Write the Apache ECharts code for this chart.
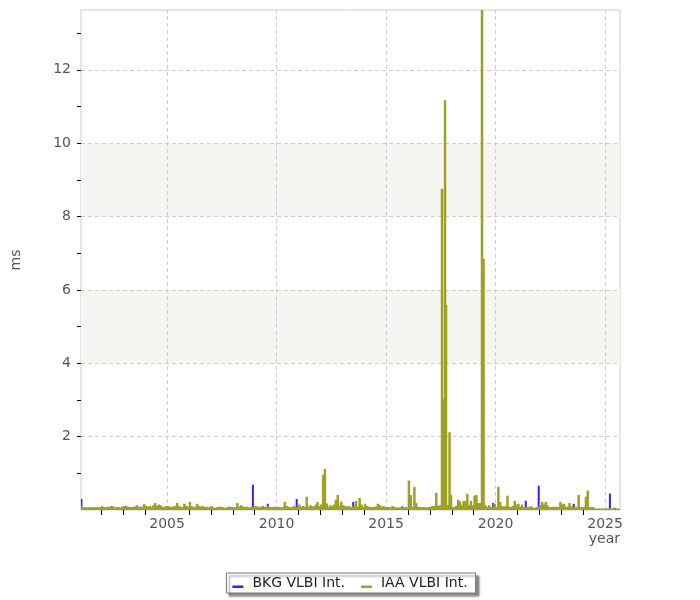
<!DOCTYPE html>
<html><head><meta charset="utf-8">
<script src="https://cdn.jsdelivr.net/npm/echarts@6/dist/echarts.min.js"></script>
<style>html,body{margin:0;padding:0;background:#fff}#c{width:700px;height:600px}</style>
</head><body><div id="c"></div>
<script>
// ---- data ----
const seriesNames = ['BKG VLBI Int.', 'IAA VLBI Int.'];
const iaaFirstYear = 2001;
// IAA VLBI Int. monthly values (ms), one row per year, Jan..Dec
const iaaByYear = [
  [0.13, 0.09, 0.07, 0.08, 0.07, 0.08, 0.08, 0.07, 0.08, 0.08, 0.07, 0.08], // 2001
  [0.11, 0.08, 0.07, 0.09, 0.08, 0.10, 0.10, 0.07, 0.08, 0.08, 0.07, 0.09], // 2002
  [0.11, 0.08, 0.09, 0.08, 0.08, 0.09, 0.08, 0.13, 0.08, 0.10, 0.08, 0.16], // 2003
  [0.11, 0.09, 0.11, 0.08, 0.13, 0.19, 0.11, 0.15, 0.13, 0.09, 0.08, 0.11], // 2004
  [0.11, 0.09, 0.08, 0.10, 0.11, 0.19, 0.11, 0.09, 0.08, 0.17, 0.11, 0.09], // 2005
  [0.22, 0.11, 0.08, 0.09, 0.17, 0.11, 0.09, 0.11, 0.08, 0.09, 0.07, 0.08], // 2006
  [0.11, 0.07, 0.06, 0.08, 0.09, 0.09, 0.08, 0.06, 0.07, 0.08, 0.07, 0.08], // 2007
  [0.08, 0.07, 0.19, 0.09, 0.13, 0.10, 0.08, 0.09, 0.08, 0.07, 0.09, 0.08], // 2008
  [0.11, 0.09, 0.08, 0.09, 0.11, 0.09, 0.08, 0.11, 0.08, 0.08, 0.09, 0.08], // 2009
  [0.09, 0.08, 0.07, 0.08, 0.22, 0.11, 0.09, 0.08, 0.08, 0.11, 0.09, 0.08], // 2010
  [0.15, 0.09, 0.11, 0.08, 0.36, 0.09, 0.13, 0.11, 0.09, 0.15, 0.22, 0.11], // 2011
  [0.15, 0.96, 1.12, 0.18, 0.09, 0.13, 0.11, 0.15, 0.28, 0.41, 0.11, 0.23], // 2012
  [0.13, 0.11, 0.09, 0.11, 0.08, 0.09, 0.11, 0.25, 0.09, 0.33, 0.15, 0.09], // 2013
  [0.17, 0.11, 0.09, 0.08, 0.08, 0.09, 0.09, 0.17, 0.13, 0.09, 0.11, 0.08], // 2014
  [0.08, 0.08, 0.07, 0.11, 0.08, 0.07, 0.07, 0.07, 0.08, 0.07, 0.08, 0.07], // 2015
  [0.80, 0.41, 0.09, 0.63, 0.19, 0.09, 0.08, 0.08, 0.08, 0.07, 0.07, 0.08], // 2016
  [0.09, 0.11, 0.11, 0.47, 0.11, 0.13, 0.13, 0.13, 0.13, 0.13, 0.13, 0.09], // 2017
  [0.08, 0.08, 0.11, 0.28, 0.23, 0.13, 0.25, 0.25, 0.44, 0.13, 0.25, 0.13], // 2018
  [0.39, 0.41, 0.19, 0.19, 0.13, 0.13, 0.13, 0.08, 0.13, 0.08, 0.08, 0.17], // 2019
  [0.08, 0.63, 0.22, 0.11, 0.09, 0.11, 0.39, 0.09, 0.08, 0.11, 0.25, 0.15], // 2020
  [0.17, 0.09, 0.15, 0.08, 0.08, 0.08, 0.09, 0.09, 0.06, 0.06, 0.08, 0.08], // 2021
  [0.13, 0.22, 0.15, 0.22, 0.13, 0.08, 0.08, 0.09, 0.08, 0.09, 0.08, 0.22], // 2022
  [0.15, 0.17, 0.09, 0.09, 0.19, 0.11, 0.08, 0.08, 0.08, 0.41, 0.08, 0.08], // 2023
  [0.08, 0.36, 0.53, 0.08, 0.08, 0.08, 0.04, 0.04, 0.04, 0.04, 0.04, 0.04], // 2024
  [0.04, 0.04, 0.04, 0.04, 0.04, 0.04, 0.04, 0.04]                          // 2025
];
// IAA individual large sessions [year, ms]
const iaaSpikes = [
  [2017.554, 8.76], [2017.623, 3.02], [2017.691, 11.17], [2017.737, 5.59],
  [2017.897, 2.12], [2017.965, 0.41], [2019.380, 13.63], [2019.450, 6.85]
];
// BKG VLBI Int. sessions [year, ms]
const bkgPoints = [
  [2001.10, 0.30], [2002.48, 0.11], [2003.12, 0.11], [2003.58, 0.09],
  [2007.87, 0.09], [2008.93, 0.69], [2009.61, 0.17], [2010.93, 0.30],
  [2013.51, 0.22], [2015.75, 0.10], [2019.90, 0.19], [2021.39, 0.25],
  [2021.65, 0.09], [2021.98, 0.66], [2023.58, 0.17], [2025.23, 0.45],
  [2025.45, 0.06]
];
const xLabelYears = [2005, 2010, 2015, 2020, 2025];
const xTickYears = [2002, 2003, 2004, 2006, 2007, 2008, 2009, 2011, 2012, 2013, 2014,
  2016, 2017, 2018, 2019, 2021, 2022, 2023, 2024];
const yLabelValues = [2, 4, 6, 8, 10, 12];
const yTickValues = [1, 2, 3, 4, 5, 6, 7, 8, 9, 10, 11, 12, 13];
const shadedBands = [[4, 6], [8, 10]];
const xRange = [2001.07, 2025.68];
const yRange = [0, 13.63];

// ---- build ----
const iaaData = [];
iaaByYear.forEach((row, yi) => row.forEach((v, m) => iaaData.push([iaaFirstYear + yi + (m + 0.5) / 12, v])));
iaaSpikes.forEach(p => iaaData.push(p));

const BLUE = '#3c1ef0', OLIVE = '#9fa124';
const font = 'DejaVu Sans';
const gridLines = yLabelValues.map(v => ({yAxis: v})).concat(xLabelYears.map(v => ({xAxis: v})));

const chart = echarts.init(document.getElementById('c'), null, {renderer: 'canvas'});
chart.setOption({
  animation: false,
  textStyle: {fontFamily: font},
  grid: {left: 81, right: 80, top: 10, bottom: 90, show: true, borderColor: '#ccc', borderWidth: 1, backgroundColor: '#fff'},
  legend: {
    data: seriesNames, bottom: 7, left: 'center',
    icon: 'path://M0,0L0.01,0L0.01,0.01Z M15,0L15.01,0L15.01,0.01Z M0,7.5L11,7.5L11,10L0,10Z',
    itemWidth: 15, itemHeight: 10, itemGap: 16,
    padding: [3, 8, 3, 6],
    borderColor: '#777', borderWidth: 1, backgroundColor: '#fff',
    shadowColor: 'rgba(0,0,0,0.45)', shadowBlur: 2, shadowOffsetX: 3, shadowOffsetY: 3,
    textStyle: {fontFamily: font, fontSize: 14, color: '#222'}
  },
  xAxis: {
    type: 'value', min: xRange[0], max: xRange[1],
    name: 'year', nameLocation: 'end', nameGap: 0,
    nameTextStyle: {fontFamily: font, fontSize: 14, color: '#555', align: 'right', verticalAlign: 'top', padding: [22, 0, 0, 0]},
    axisLine: {show: false},
    axisTick: {show: true, customValues: xTickYears, length: 5, lineStyle: {color: '#000'}},
    axisLabel: {customValues: xLabelYears, fontFamily: font, fontSize: 14, color: '#555', margin: 7,
      formatter: v => String(Math.round(v))},
    splitLine: {show: false}
  },
  yAxis: {
    type: 'value', min: yRange[0], max: yRange[1],
    name: 'ms', nameLocation: 'middle', nameGap: 58,
    nameTextStyle: {fontFamily: font, fontSize: 14, color: '#555'},
    axisLine: {show: false},
    axisTick: {show: true, customValues: yTickValues, length: 4, lineStyle: {color: '#000'}},
    axisLabel: {customValues: yLabelValues, fontFamily: font, fontSize: 14, color: '#555', margin: 10,
      formatter: v => String(Math.round(v))},
    splitLine: {show: false}
  },
  series: [
    {
      name: seriesNames[0], type: 'bar', data: bkgPoints, barWidth: 2, barGap: '-100%',
      itemStyle: {color: BLUE}, z: 2, clip: true,
      markArea: {silent: true, z: 0, itemStyle: {color: '#f5f5f1'},
        data: shadedBands.map(b => [{yAxis: b[0]}, {yAxis: b[1]}])},
      markLine: {silent: true, z: 1, symbol: ['none', 'none'], label: {show: false},
        lineStyle: {color: '#ccc', width: 1, type: [4, 3]}, data: gridLines}
    },
    {
      name: seriesNames[1], type: 'bar', data: iaaData, barWidth: 2.5, barGap: '-100%',
      itemStyle: {color: OLIVE}, z: 2, clip: true
    }
  ]
});
</script></body></html>
